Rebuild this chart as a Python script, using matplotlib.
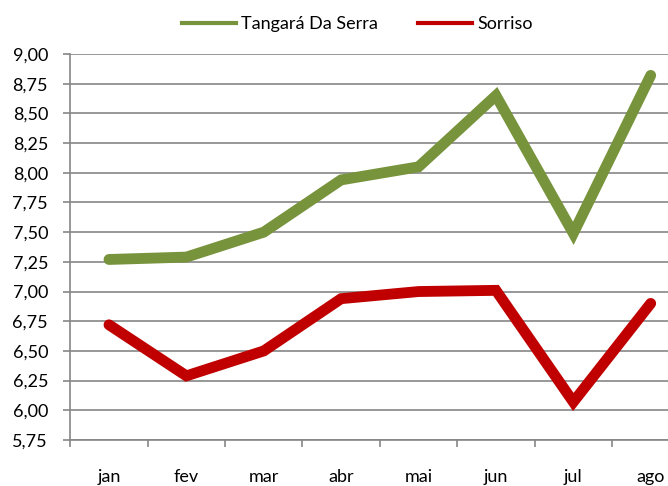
import matplotlib
matplotlib.use("Agg")
import matplotlib.pyplot as plt
from matplotlib.ticker import FixedLocator, FuncFormatter
from matplotlib.lines import Line2D

months = ["jan", "fev", "mar", "abr", "mai", "jun", "jul", "ago"]
tangara = [7.27, 7.29, 7.50, 7.94, 8.05, 8.65, 7.49, 8.82]
sorriso = [6.72, 6.29, 6.50, 6.94, 7.00, 7.01, 6.07, 6.90]
y_ticks = [5.75 + 0.25 * i for i in range(14)]

plt.rcParams['font.family'] = ['Lato', 'DejaVu Sans']

fig = plt.figure(figsize=(6.68, 4.86), dpi=100)
W, H = 668, 486
left, right = 70.3, 689.4
bottom, top = 440, 54
ax = fig.add_axes([left / W, 1 - bottom / H, (right - left) / W, (bottom - top) / H])

x = list(range(len(months)))
gc = "#868686"
green, red = "#77933C", "#C00000"
ax.plot(x, tangara, color=green, lw=7.8, solid_capstyle="round",
        solid_joinstyle="miter", zorder=3)
ax.plot(x, sorriso, color=red, lw=7.8, solid_capstyle="round",
        solid_joinstyle="miter", zorder=3)

ax.set_xlim(-0.5, len(months) - 0.5)
ax.set_ylim(5.75, 9.0)
ax.yaxis.set_major_locator(FixedLocator(y_ticks))
ax.yaxis.set_major_formatter(FuncFormatter(lambda v, p: f"{v:.2f}".replace(".", ",")))
ax.set_xticks(x)
ax.set_xticklabels(months)
ax.xaxis.set_minor_locator(FixedLocator([i - 0.5 for i in range(len(months) + 1)]))
ax.tick_params(axis="x", which="major", length=0, pad=21, labelsize=13, labelcolor="black")
ax.tick_params(axis="x", which="minor", length=5, width=1.2, color=gc, direction="out")
ax.tick_params(axis="y", length=5, width=1.2, color=gc, direction="out", labelsize=13, pad=11)

ax.grid(axis="y", color=gc, lw=1.2)
ax.set_axisbelow(True)
for s in ["top", "right"]:
    ax.spines[s].set_visible(False)
for s in ["left", "bottom"]:
    ax.spines[s].set_color(gc)
    ax.spines[s].set_linewidth(1.2)

handles = [Line2D([], [], color=green, lw=3), Line2D([], [], color=red, lw=3)]
fig.legend(handles, ["Tangará Da Serra", "Sorriso"], loc="center",
           bbox_to_anchor=(0.535, 1 - 24 / H), ncol=2, frameon=False,
           fontsize=13, handlelength=3.0, handletextpad=0.3, columnspacing=2.2)

fig.savefig("out.png", dpi=100)
